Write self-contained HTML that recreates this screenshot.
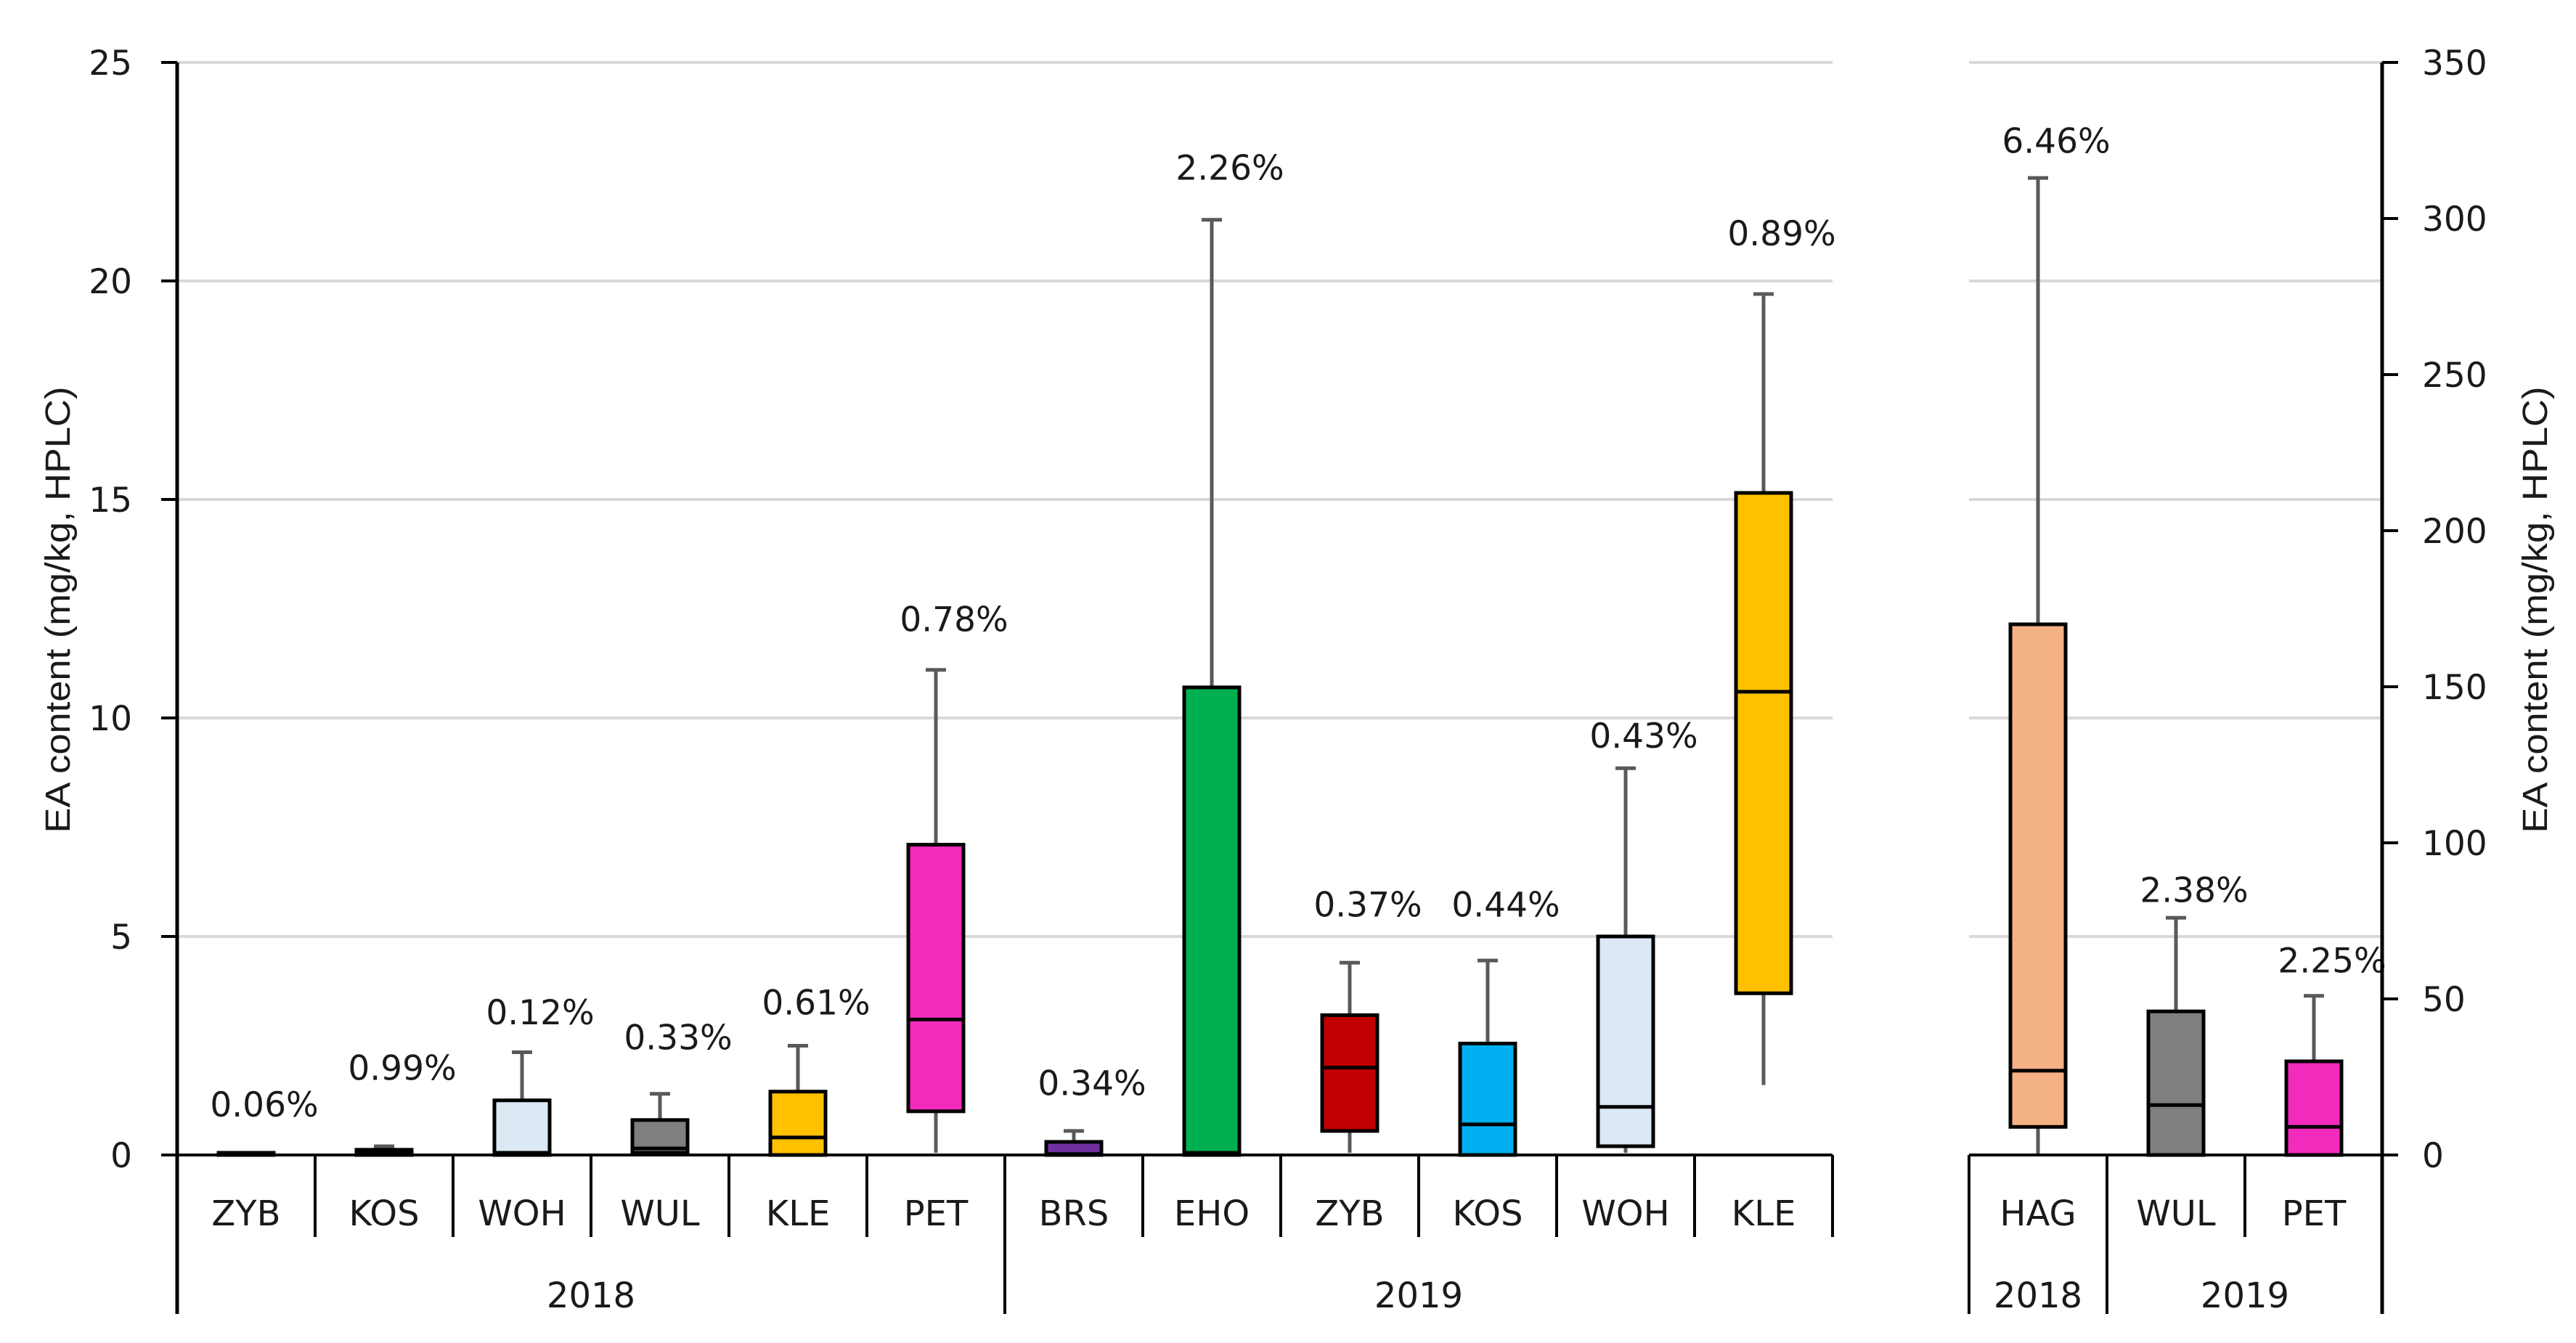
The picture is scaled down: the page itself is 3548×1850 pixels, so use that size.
<!DOCTYPE html>
<html><head><meta charset="utf-8"><style>
html,body{margin:0;padding:0;background:#fff;}
svg{display:block;}
text{font-family:"DejaVu Sans","Liberation Sans",sans-serif;fill:#1a1a1a;}
</style></head><body>
<svg id="chart" width="3548" height="1850" viewBox="0 0 3548 1850" xmlns="http://www.w3.org/2000/svg">
<text transform="translate(96,840) rotate(-90)" text-anchor="middle" font-size="48" style="font-family:'Liberation Sans Narrow','Liberation Sans',sans-serif" textLength="615" lengthAdjust="spacingAndGlyphs">EA content (mg/kg, HPLC)</text>
<text transform="translate(3508,840) rotate(-90)" text-anchor="middle" font-size="48" style="font-family:'Liberation Sans Narrow','Liberation Sans',sans-serif" textLength="615" lengthAdjust="spacingAndGlyphs">EA content (mg/kg, HPLC)</text>
</svg>
<script>
const leftCats=["ZYB","KOS","WOH","WUL","KLE","PET","BRS","EHO","ZYB","KOS","WOH","KLE"];
const leftYears=["2018","2018","2018","2018","2018","2018","2019","2019","2019","2019","2019","2019"];
const leftColors=["#404040","#404040","#dde8f5","#7f7f7f","#ffc000","#f22bbd","#7030a0","#00b050","#c00000","#00b0f0","#dde8f5","#ffc000"];
const leftMin=[0,0,0,0,0,0.05,0,0,0.05,0,0.05,1.6];
const leftQ1=[0,0,0,0.05,0,1.0,0,0,0.55,0,0.2,3.7];
const leftMed=[0.02,0.05,0.05,0.15,0.4,3.1,0.02,0.05,2.0,0.7,1.1,10.6];
const leftQ3=[0.05,0.12,1.25,0.8,1.45,7.1,0.3,10.7,3.2,2.55,5.0,15.15];
const leftMax=[0.05,0.2,2.35,1.4,2.5,11.1,0.55,21.4,4.4,4.45,8.85,19.7];
const leftPct=["0.06%","0.99%","0.12%","0.33%","0.61%","0.78%","0.34%","2.26%","0.37%","0.44%","0.43%","0.89%"];
const leftPctY=[1.16,2.0,3.27,2.7,3.5,12.27,1.65,22.6,5.74,5.74,9.6,21.1];
const leftTicks=[0,5,10,15,20,25];

const rightCats=["HAG","WUL","PET"];
const rightYears=["2018","2019","2019"];
const rightColors=["#f4b183","#7f7f7f","#f22bbd"];
const rightMin=[0,0,0];
const rightQ1=[9,0,0];
const rightMed=[27,16,9];
const rightQ3=[170,46,30];
const rightMax=[313,76,51];
const rightPct=["6.46%","2.38%","2.25%"];
const rightPctY=[325,85,62.5];
const rightTicks=[0,50,100,150,200,250,300,350];

const NS="http://www.w3.org/2000/svg";
const svg=document.getElementById("chart");
const Y0=1591,YT=86;
const yL=v=>Y0-(v/25)*(Y0-YT);
const yR=v=>Y0-(v/350)*(Y0-YT);
const LX0=244,CW=190,RX0=2712,RX1=3281;
function el(tag,attrs,parent){const e=document.createElementNS(NS,tag);for(const k in attrs)e.setAttribute(k,attrs[k]);(parent||svg).appendChild(e);return e;}
function txt(s,attrs){const t=el("text",attrs);t.textContent=s;return t;}

// gridlines (right panel shares the left grid levels)
leftTicks.forEach(v=>{if(v===0)return;
 const g=el("line",{x1:LX0,x2:LX0+CW*leftCats.length,y1:yL(v),y2:yL(v),stroke:"#d9d9d9","stroke-width":4});
 
 
 const g2=el("line",{x1:RX0,x2:RX1,y1:yL(v),y2:yL(v),stroke:"#d9d9d9","stroke-width":4});
 
 
});

function drawBoxes(cats,colors,mn,q1,md,q3,mx,pct,pctY,x0,ys,prefix){
 cats.forEach((c,i)=>{
  const cx=x0+CW*i+CW/2, bw=76;
  const g=el("g",{});
  
  
  if(mx[i]>q3[i]){
   el("line",{x1:cx,x2:cx,y1:ys(q3[i]),y2:ys(mx[i]),stroke:"#595959","stroke-width":5},g);
   el("line",{x1:cx-14,x2:cx+14,y1:ys(mx[i]),y2:ys(mx[i]),stroke:"#595959","stroke-width":5},g);
  }
  if(mn[i]<q1[i]){
   el("line",{x1:cx,x2:cx,y1:ys(q1[i]),y2:ys(mn[i]),stroke:"#595959","stroke-width":5},g);
  }
  const top=ys(q3[i]),bot=ys(q1[i]);
  el("rect",{x:cx-bw/2,y:top,width:bw,height:Math.max(bot-top,3),fill:colors[i],stroke:"#000","stroke-width":5},g);
  el("line",{x1:cx-bw/2,x2:cx+bw/2,y1:ys(md[i]),y2:ys(md[i]),stroke:"#000","stroke-width":5},g);
  const t=txt(pct[i],{x:cx+25,y:ys(pctY[i])+17,"text-anchor":"middle","font-size":47});
  
  
 });
}
drawBoxes(leftCats,leftColors,leftMin,leftQ1,leftMed,leftQ3,leftMax,leftPct,leftPctY,LX0,yL,"left");
drawBoxes(rightCats,rightColors,rightMin,rightQ1,rightMed,rightQ3,rightMax,rightPct,rightPctY,RX0,yR,"right");

// axes
const ax=el("line",{x1:LX0,x2:LX0,y1:YT,y2:1810,stroke:"#000","stroke-width":5});


const ax2=el("line",{x1:RX1,x2:RX1,y1:YT,y2:1810,stroke:"#000","stroke-width":5});


const bx=el("line",{x1:LX0,x2:LX0+CW*leftCats.length,y1:Y0,y2:Y0,stroke:"#000","stroke-width":4});


const bx2=el("line",{x1:RX0,x2:RX1,y1:Y0,y2:Y0,stroke:"#000","stroke-width":4});



leftTicks.forEach(v=>{
 el("line",{x1:LX0-22,x2:LX0,y1:yL(v),y2:yL(v),stroke:"#000","stroke-width":4});
 const t=txt(String(v),{x:LX0-62,y:yL(v)+17,"text-anchor":"end","font-size":47});
 
 
});
rightTicks.forEach(v=>{
 el("line",{x1:RX1,x2:RX1+22,y1:yR(v),y2:yR(v),stroke:"#000","stroke-width":4});
 const t=txt(String(v),{x:3336,y:yR(v)+17,"text-anchor":"start","font-size":47});
 
 
});

function drawCats(cats,years,x0){
 cats.forEach((c,i)=>{
  const xl=x0+CW*i;
  const newYear=i===0||years[i]!==years[i-1];
  if(i>0||x0!==LX0) el("line",{x1:xl,x2:xl,y1:Y0,y2:newYear?1810:1704,stroke:"#000","stroke-width":4});
  const t=txt(c,{x:xl+CW/2,y:1688,"text-anchor":"middle","font-size":48});
  
  
 });
 const xe=x0+CW*cats.length;
 if(x0===LX0) el("line",{x1:xe,x2:xe,y1:Y0,y2:1704,stroke:"#000","stroke-width":4});
 let s=0;
 for(let i=1;i<=cats.length;i++){
  if(i===cats.length||years[i]!==years[s]){
   const t=txt(years[s],{x:x0+CW*(s+i)/2,y:1801,"text-anchor":"middle","font-size":48});
   
   
   s=i;
  }
 }
}
drawCats(leftCats,leftYears,LX0);
drawCats(rightCats,rightYears,RX0);
</script>
</body></html>
